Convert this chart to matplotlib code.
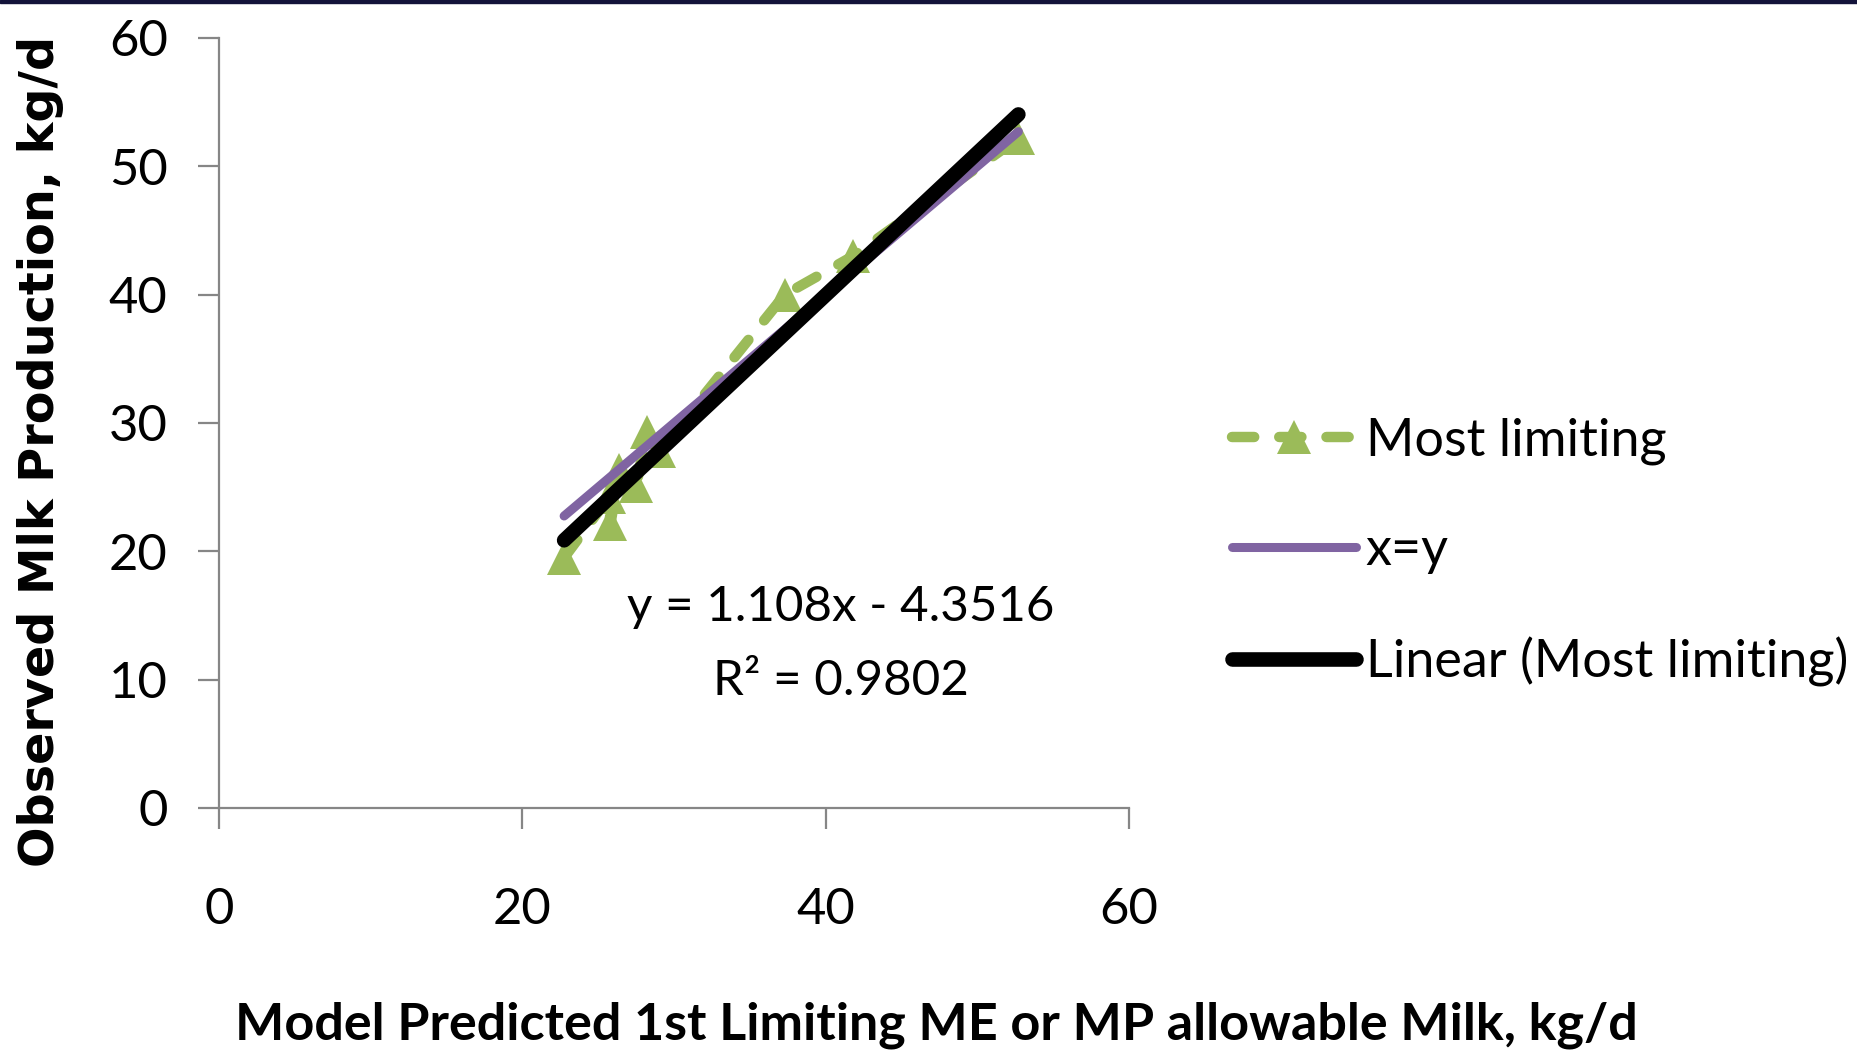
import matplotlib
matplotlib.use("Agg")
import matplotlib.pyplot as plt
from matplotlib.patches import Rectangle

# data
pred_milk = [22.75, 25.7, 25.8, 26.4, 27.5, 28.2, 29.0, 37.3, 41.8, 52.7]
obs_milk = [19.5, 24.2, 22.1, 26.3, 25.1, 29.3, 27.8, 40.0, 43.0, 52.2]
fit_slope = 1.108
fit_intercept = -4.3516
fit_r2 = 0.9802

x_ticks = [0, 20, 40, 60]
y_ticks = [0, 10, 20, 30, 40, 50, 60]

green = '#9BBB59'
purple = '#8064A2'
gray = '#868686'
narrow = ['Lato', 'DejaVu Sans']

plt.rcParams['lines.scale_dashes'] = False

fig = plt.figure(figsize=(18.58, 10.57), dpi=100)
ax = fig.add_axes([0.1179, 0.2356, 0.4898, 0.7285])

# observed series, dashed with triangles
ax.plot(pred_milk, obs_milk, color=green, lw=7.5, linestyle=(0, (16, 18)),
        dash_capstyle='round', marker='^', ms=24, mew=0, zorder=2,
        label='Most limiting')

# x = y line over the data range
lo, hi = min(pred_milk), max(pred_milk)
ax.plot([lo, hi], [lo, hi], color=purple, lw=6.5, solid_capstyle='round',
        zorder=3, label='x=y')

# linear trend line
ax.plot([lo, hi], [fit_slope * lo + fit_intercept, fit_slope * hi + fit_intercept],
        color='black', lw=10.5, solid_capstyle='round', zorder=4,
        label='Linear (Most limiting)')

ax.set_xlim(0, 60)
ax.set_ylim(0, 60)
ax.set_xticks(x_ticks)
ax.set_yticks(y_ticks)

for s in ['top', 'right']:
    ax.spines[s].set_visible(False)
for s in ['left', 'bottom']:
    ax.spines[s].set_color(gray)
    ax.spines[s].set_linewidth(1.6)

ax.tick_params(axis='both', direction='out', length=15, width=1.6, color=gray)
ax.tick_params(axis='y', pad=22)
ax.tick_params(axis='x', pad=42)
for lab in ax.get_xticklabels() + ax.get_yticklabels():
    lab.set_fontfamily(narrow)
    lab.set_fontsize(36.5)

# equation
sign = '-' if fit_intercept < 0 else '+'
fig.text(0.4526, 0.4257, 'y = %.3fx %s %.4f' % (fit_slope, sign, abs(fit_intercept)),
         ha='center', va='center', fontsize=35.5, family=narrow)
fig.text(0.4526, 0.3557, 'R\u00b2 = %.4f' % fit_r2,
         ha='center', va='center', fontsize=35.5, family=narrow)

# axis titles
fig.text(0.5038, 0.0303, 'Model Predicted 1st Limiting ME or MP allowable Milk, kg/d',
         ha='center', va='center', fontsize=37.5, fontweight='bold', family=narrow)
fig.text(0.022, 0.573, 'Observed Mlk Production, kg/d', rotation=90,
         ha='center', va='center', fontsize=34.4, fontweight='bold', family='DejaVu Sans')

leg = fig.legend(loc='center left', bbox_to_anchor=(0.663, 0.4775), frameon=False,
                 borderpad=0, borderaxespad=0, handlelength=2.39, handletextpad=0.18,
                 labelspacing=1.2, numpoints=1, prop={'family': narrow, 'size': 37.5})

# thin dark band at the top
fig.patches.append(Rectangle((0, 0.997), 1, 0.003, transform=fig.transFigure,
                             color='#13133A', zorder=10))

fig.savefig('out.png', dpi=100)
